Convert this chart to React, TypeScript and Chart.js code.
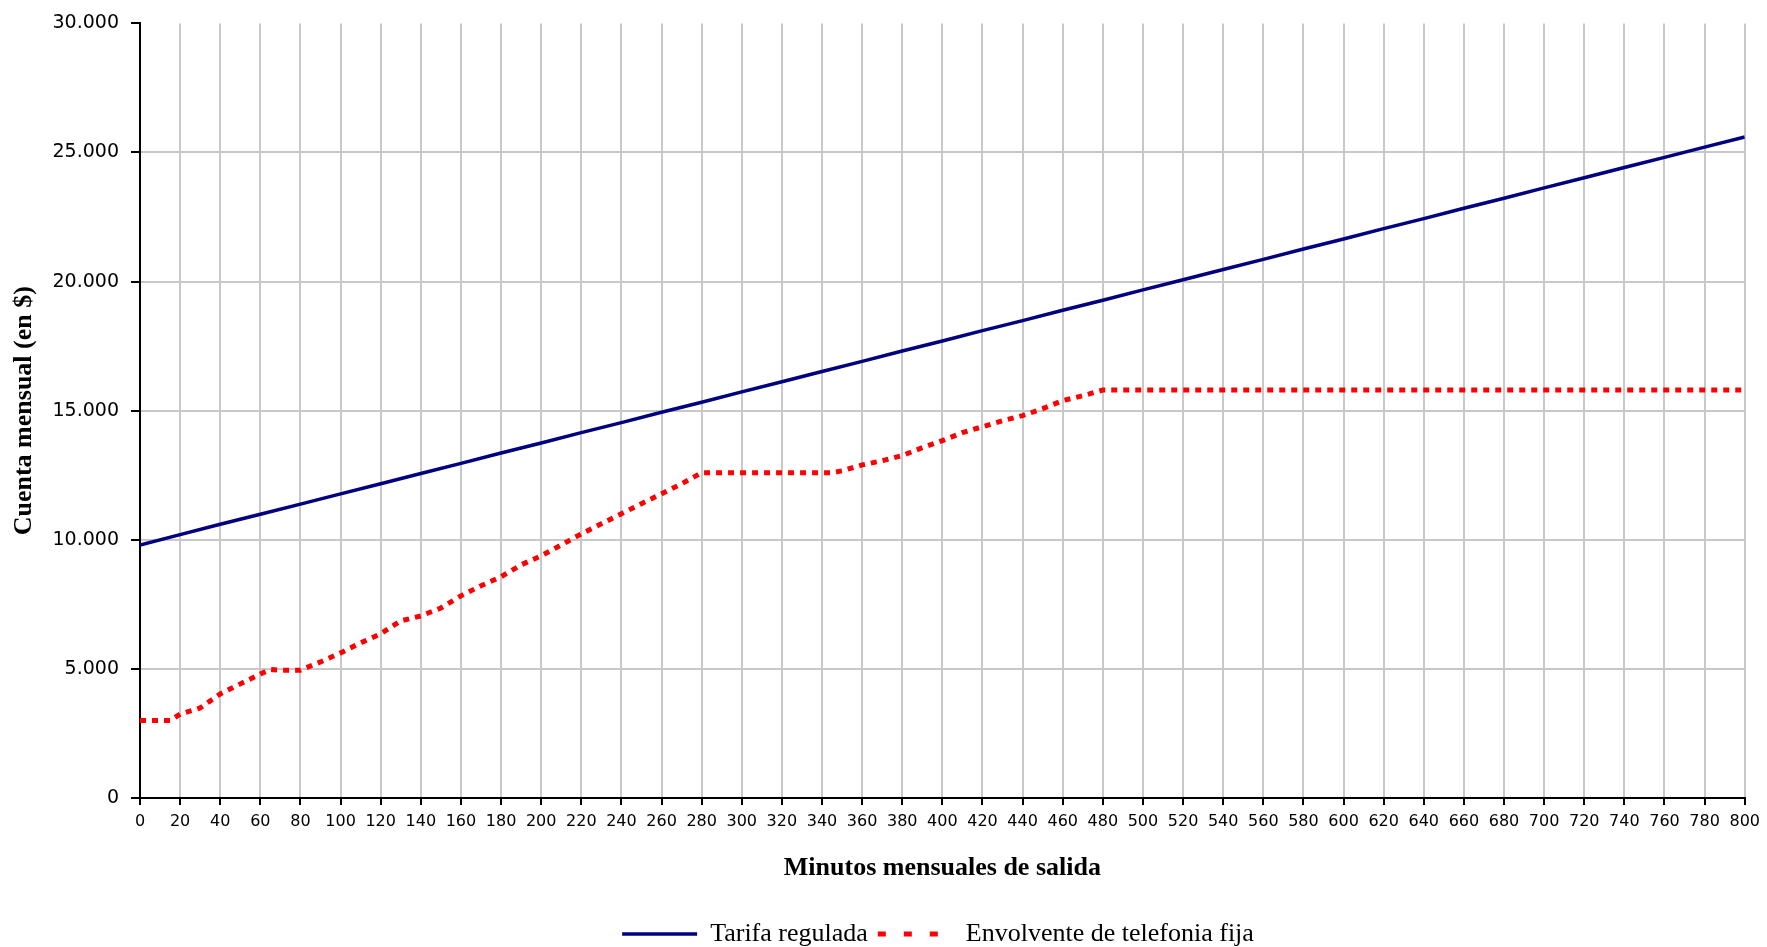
import React, { useEffect, useRef } from "react";
import { Chart, registerables } from "chart.js";

Chart.register(...registerables);

// Tarifa regulada (read at each 20-minute tick)
const regMinutes = [0, 20, 40, 60, 80, 100, 120, 140, 160, 180, 200, 220, 240, 260, 280, 300, 320, 340, 360, 380, 400, 420, 440, 460, 480, 500, 520, 540, 560, 580, 600, 620, 640, 660, 680, 700, 720, 740, 760, 780, 800];
const regValues = [9800, 10200, 10600, 10990, 11380, 11780, 12170, 12570, 12960, 13360, 13750, 14150, 14540, 14940, 15330, 15730, 16120, 16520, 16910, 17310, 17700, 18100, 18490, 18890, 19280, 19680, 20070, 20470, 20860, 21260, 21650, 22050, 22440, 22840, 23230, 23630, 24020, 24420, 24810, 25210, 25600];

// Envolvente de telefonia fija
const envMinutes = [0, 10, 15, 20, 30, 40, 50, 60, 65, 70, 80, 90, 100, 110, 120, 130, 140, 150, 160, 170, 180, 190, 200, 210, 220, 230, 240, 250, 260, 270, 280, 300, 320, 345, 350, 360, 370, 380, 390, 400, 410, 420, 430, 440, 450, 460, 470, 480, 560, 640, 720, 800];
const envValues = [3000, 3000, 3000, 3250, 3490, 4030, 4420, 4800, 4980, 4950, 4950, 5270, 5620, 6010, 6360, 6860, 7050, 7360, 7830, 8220, 8570, 9030, 9380, 9800, 10230, 10620, 11010, 11400, 11780, 12170, 12600, 12600, 12600, 12600, 12670, 12900, 13060, 13260, 13570, 13840, 14150, 14380, 14610, 14810, 15080, 15390, 15580, 15800, 15800, 15800, 15800, 15800];

const seriesNames = ["Tarifa regulada", "Envolvente de telefonia fija"];
const xTitle = "Minutos mensuales de salida";
const yTitle = "Cuenta mensual (en $)";

const fmt = (v: number) => {
  const s = Math.round(v).toString();
  return s.replace(/\B(?=(\d{3})+(?!\d))/g, ".");
};

// shifts the legend so that it is centred under the plot area
const legendShift = {
  id: "legendShift",
  afterLayout(chart: any) {
    const lg = chart.legend;
    if (!lg) return;
    const d = 64;
    lg.left += d;
    lg.right += d;
  },
};

export default function App() {
  const ref = useRef<HTMLCanvasElement | null>(null);
  useEffect(() => {
    if (!ref.current) return;
    const chart = new Chart(ref.current, {
      type: "line",
      data: {
        datasets: [
          {
            label: seriesNames[0],
            data: regMinutes.map((x, i) => ({ x, y: regValues[i] })),
            borderColor: "#000080",
            backgroundColor: "#000080",
            borderWidth: 3.5,
            pointRadius: 0,
            tension: 0,
          },
          {
            label: seriesNames[1],
            data: envMinutes.map((x, i) => ({ x, y: envValues[i] })),
            borderColor: "#ff0000",
            backgroundColor: "#ff0000",
            borderWidth: 5,
            borderDash: [6, 6],
            pointRadius: 0,
            tension: 0,
          },
        ],
      },
      options: {
        responsive: false,
        animation: false,
        layout: { padding: { top: 23, right: 19, bottom: 0, left: 0 } },
        scales: {
          x: {
            type: "linear",
            min: 0,
            max: 800,
            afterFit: (s: any) => {
              s.height = 113;
            },
            ticks: {
              stepSize: 20,
              autoSkip: false,
              maxRotation: 0,
              padding: 7,
              color: "#000",
              font: { family: "DejaVu Sans", size: 16 },
            },
            grid: {
              color: "#c8c8c8",
              lineWidth: 2,
              tickColor: "#000",
              tickLength: 7,
              tickWidth: 2,
            },
            border: { color: "#000", width: 2 },
            title: {
              display: true,
              text: xTitle,
              color: "#000",
              font: { family: "Liberation Serif", size: 26, weight: "bold" },
              padding: { top: 0, bottom: 27 },
            },
          },
          y: {
            min: 0,
            max: 30000,
            afterFit: (s: any) => {
              s.width = 140;
            },
            ticks: {
              stepSize: 5000,
              padding: 12,
              color: "#000",
              font: { family: "DejaVu Sans", size: 19 },
              callback: (v: any) => fmt(Number(v)),
            },
            grid: {
              color: (ctx: any) => (ctx.tick && ctx.tick.value === 30000 ? "rgba(0,0,0,0)" : "#c8c8c8"),
              lineWidth: 2,
              tickColor: "#000",
              tickLength: 9,
              tickWidth: 2,
            },
            border: { color: "#000", width: 2 },
            title: {
              display: true,
              text: yTitle,
              color: "#000",
              font: { family: "Liberation Serif", size: 26, weight: "bold" },
              padding: { top: 9, bottom: 0 },
            },
          },
        },
        plugins: {
          tooltip: { enabled: false },
          legend: {
            position: "bottom",
            labels: {
              usePointStyle: true,
              pointStyle: "line",
              pointStyleWidth: 75,
              padding: 10,
              color: "#000",
              font: { family: "Liberation Serif", size: 26 },
              generateLabels: (c: any) => {
                const items = (Chart.defaults.plugins.legend.labels as any).generateLabels(c);
                items.forEach((it: any, i: number) => {
                  it.pointStyle = "line";
                  it.lineWidth = i === 0 ? 3.5 : 5;
                  it.lineDash = i === 0 ? [] : [8, 18];
                  it.lineCap = "butt";
                });
                return items;
              },
            },
          },
        },
      },
      plugins: [legendShift],
    } as any);
    return () => chart.destroy();
  }, []);
  return (
    <div style={{ position: "fixed", left: 0, top: 0, width: 1767, height: 957, background: "#fff" }}>
      <canvas ref={ref} width={1767} height={957} style={{ display: "block" }} />
    </div>
  );
}
